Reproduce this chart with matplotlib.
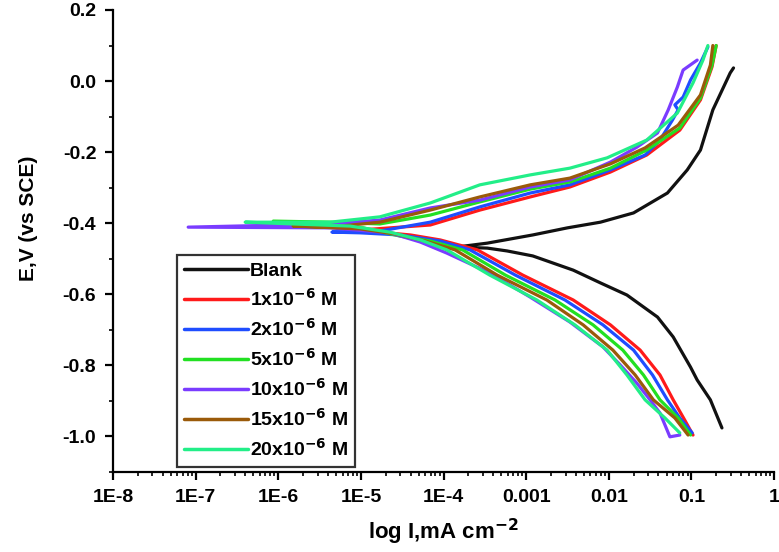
import matplotlib
matplotlib.use("Agg")
import matplotlib.pyplot as plt
import numpy as np
from matplotlib.ticker import LogLocator, FixedLocator, NullFormatter

plt.rcParams['font.family'] = ['Liberation Sans', 'DejaVu Sans']
plt.rcParams['font.weight'] = 'bold'
plt.rcParams['mathtext.default'] = 'bf'
plt.rcParams['axes.unicode_minus'] = False

# ---- data: log10(I / mA cm^-2) and E (V vs SCE), path cathodic end -> Ecorr -> anodic end
labels = ["Blank", "1x10$^{-6}$ M", "2x10$^{-6}$ M", "5x10$^{-6}$ M",
          "10x10$^{-6}$ M", "15x10$^{-6}$ M", "20x10$^{-6}$ M"]
colors = ["#111111", "#ff1a1a", "#1f4dff", "#22e022", "#7a3cff", "#9a5a0a", "#22ee88"]

blank_logI = [-0.63, -0.77, -0.93, -1.01, -1.22, -1.41, -1.78, -2.10, -2.43, -2.92, -3.23, -3.47, -3.84,
              -3.47, -2.92, -2.50, -2.10, -1.70, -1.29, -1.05, -0.89, -0.74, -0.53, -0.49]
blank_E = [-0.976, -0.897, -0.841, -0.805, -0.720, -0.664, -0.602, -0.568, -0.532, -0.492, -0.478, -0.470, -0.467,
           -0.456, -0.433, -0.413, -0.397, -0.371, -0.315, -0.250, -0.194, -0.081, 0.023, 0.037]

c1_logI = [-0.98, -1.08, -1.22, -1.38, -1.62, -1.98, -2.43, -3.04, -3.59, -4.04, -4.40, -4.77, -5.19,
           -4.16, -3.56, -2.95, -2.47, -1.98, -1.54, -1.14, -0.89, -0.75, -0.70]
c1_E = [-0.996, -0.954, -0.897, -0.827, -0.757, -0.686, -0.616, -0.546, -0.475, -0.447, -0.433, -0.425, -0.422,
        -0.405, -0.363, -0.326, -0.298, -0.256, -0.208, -0.138, -0.053, 0.040, 0.100]

c2_logI = [-0.99, -1.14, -1.29, -1.47, -1.70, -2.07, -2.53, -3.13, -3.68, -4.04, -4.53, -5.01, -5.35,
           -4.77, -4.16, -3.56, -2.95, -2.47, -1.98, -1.56, -1.38, -1.23, -1.16, -1.20, -1.10, -1.01, -0.89, -0.80]
c2_E = [-0.990, -0.948, -0.897, -0.827, -0.757, -0.686, -0.616, -0.546, -0.475, -0.450, -0.433, -0.427, -0.425,
        -0.422, -0.397, -0.354, -0.315, -0.292, -0.250, -0.208, -0.166, -0.110, -0.081, -0.067, -0.045, 0.003, 0.051, 0.096]

c5_logI = [-1.01, -1.16, -1.38, -1.58, -1.83, -2.19, -2.65, -3.25, -3.77, -4.16, -4.53, -4.97, -6.06,
           -5.37, -4.77, -4.16, -3.56, -2.95, -2.47, -1.98, -1.54, -1.14, -0.89, -0.75, -0.70]
c5_E = [-0.996, -0.948, -0.897, -0.827, -0.757, -0.686, -0.616, -0.546, -0.475, -0.450, -0.436, -0.413, -0.394,
        -0.397, -0.402, -0.377, -0.340, -0.304, -0.284, -0.245, -0.194, -0.132, -0.048, 0.045, 0.100]

c10_logI = [-1.14, -1.26, -1.38, -1.50, -1.66, -1.86, -2.07, -2.47, -2.95, -3.44, -3.96, -4.28, -4.65, -5.37, -7.09,
            -5.37, -4.77, -4.16, -3.56, -2.95, -2.47, -1.98, -1.66, -1.41, -1.28, -1.17, -1.10, -0.93]
c10_E = [-0.996, -1.001, -0.934, -0.897, -0.850, -0.799, -0.748, -0.678, -0.608, -0.540, -0.484, -0.453, -0.427, -0.413, -0.411,
         -0.402, -0.391, -0.357, -0.335, -0.298, -0.278, -0.228, -0.186, -0.146, -0.081, -0.017, 0.031, 0.059]

c15_logI = [-1.04, -1.20, -1.46, -1.68, -1.95, -2.31, -2.75, -3.35, -3.86, -4.22, -4.59, -5.01, -5.82,
            -5.37, -4.77, -4.16, -3.56, -2.95, -2.47, -1.98, -1.56, -1.16, -0.89, -0.77, -0.74]
c15_E = [-0.996, -0.948, -0.897, -0.827, -0.757, -0.686, -0.616, -0.546, -0.475, -0.450, -0.430, -0.416, -0.408,
         -0.411, -0.397, -0.363, -0.326, -0.292, -0.273, -0.233, -0.188, -0.124, -0.039, 0.045, 0.100]

c20_logI = [-1.14, -1.32, -1.56, -1.78, -2.02, -2.41, -2.87, -3.44, -3.96, -4.28, -4.65, -5.13, -6.40,
            -5.37, -4.77, -4.16, -3.56, -2.95, -2.47, -2.02, -1.54, -1.17, -0.98, -0.86, -0.80]
c20_E = [-0.990, -0.948, -0.897, -0.827, -0.757, -0.686, -0.616, -0.546, -0.475, -0.447, -0.425, -0.408, -0.397,
         -0.397, -0.382, -0.343, -0.292, -0.264, -0.245, -0.216, -0.166, -0.090, -0.005, 0.059, 0.100]

x_ticks = [1e-8, 1e-7, 1e-6, 1e-5, 1e-4, 1e-3, 1e-2, 1e-1, 1]
x_ticklabels = ["1E-8", "1E-7", "1E-6", "1E-5", "1E-4", "0.001", "0.01", "0.1", "1"]
y_ticks = [0.2, 0.0, -0.2, -0.4, -0.6, -0.8, -1.0]

series = [(blank_logI, blank_E), (c1_logI, c1_E), (c2_logI, c2_E), (c5_logI, c5_E),
          (c10_logI, c10_E), (c15_logI, c15_E), (c20_logI, c20_E)]

fig = plt.figure(figsize=(7.79, 5.52), dpi=100)
ax = fig.add_axes([113/779, 1 - 472/552, (774-113)/779, (472-10)/552])

for (lg, e), lab, col in zip(series, labels, colors):
    ax.plot(10.0 ** np.array(lg), e, color=col, lw=2.3, label=lab,
            solid_joinstyle='round', solid_capstyle='round')

ax.set_xscale('log')
ax.set_xlim(1e-8, 1)
ax.set_ylim(-1.1, 0.2)
ax.set_xticks(x_ticks)
ax.set_xticklabels(x_ticklabels)
ax.xaxis.set_minor_locator(LogLocator(base=10, subs=np.arange(2, 10), numticks=100))
ax.xaxis.set_minor_formatter(NullFormatter())
ax.set_yticks(y_ticks)
ax.set_yticklabels([f"{v:.1f}" for v in y_ticks])
ax.yaxis.set_minor_locator(FixedLocator([0.1, -0.1, -0.3, -0.5, -0.7, -0.9, -1.1]))

for s in ['top', 'right']:
    ax.spines[s].set_visible(False)
for s in ['left', 'bottom']:
    ax.spines[s].set_linewidth(1.6)

ax.tick_params(which='major', direction='out', length=6, width=1.6, labelsize=14, pad=6)
ax.tick_params(which='minor', direction='out', length=3, width=1.2)
for lbl in ax.get_xticklabels() + ax.get_yticklabels():
    lbl.set_fontweight('bold')

ax.set_xlabel("log I,mA cm$^{-2}$", fontsize=16, fontweight='bold', labelpad=8)
ax.set_ylabel("E,V (vs SCE)", fontsize=15, fontweight='bold')
ax.yaxis.set_label_coords(-0.113, 0.55)

leg = ax.legend(loc='lower left', bbox_to_anchor=(0.097, 0.011), fancybox=False, frameon=True,
                prop={'weight': 'bold', 'size': 14}, handlelength=3.3, handletextpad=0.1,
                labelspacing=0.42, borderpad=0.35, borderaxespad=0)
leg.get_frame().set_edgecolor('black')
leg.get_frame().set_linewidth(1.6)
for ln in leg.get_lines():
    ln.set_linewidth(2.5)

fig.savefig("out.png", dpi=100)
